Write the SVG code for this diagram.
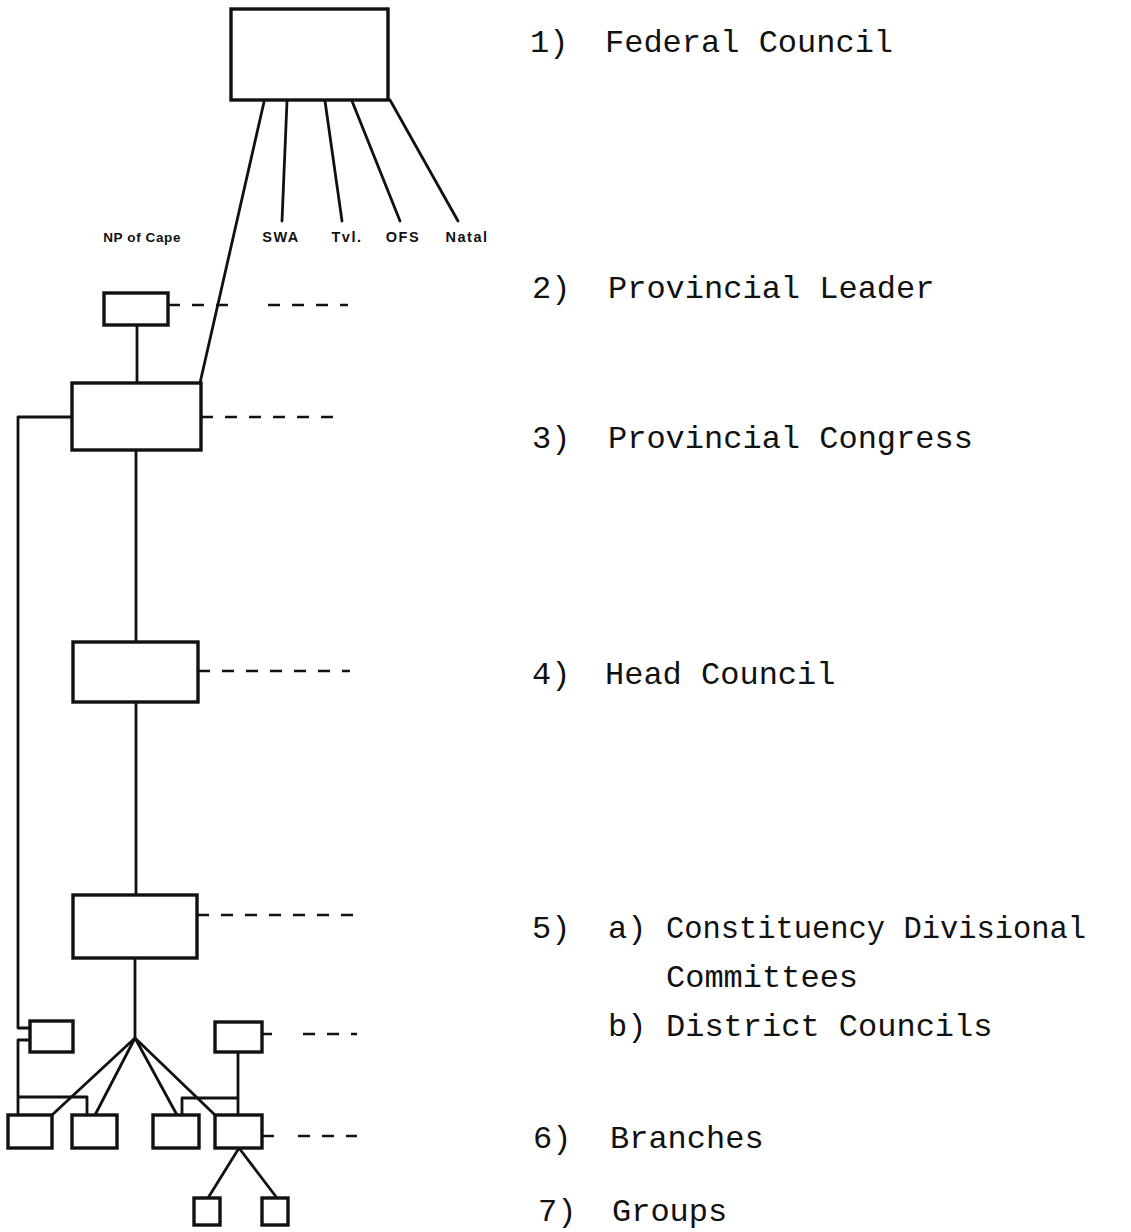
<svg xmlns="http://www.w3.org/2000/svg" width="1131" height="1232" viewBox="0 0 1131 1232">
<style>
.box{fill:#fff;stroke:#111;stroke-width:3.4}
.ln{fill:none;stroke:#111;stroke-width:2.8;stroke-linecap:round;stroke-linejoin:round}
.dash{fill:none;stroke:#111;stroke-width:2.5;stroke-dasharray:12 12}
.lab{font-family:"Liberation Sans",Arial,sans-serif;font-weight:bold;font-size:14.5px;fill:#111;text-anchor:middle;letter-spacing:1.5px}
.txt{font-family:"Liberation Mono","Courier New",monospace;font-size:32px;fill:#111}
</style>
<rect width="1131" height="1232" fill="#fff"/>
<g id="connectors">
<path class="ln" d="M264,102 L200,383"/>
<path class="ln" d="M287,101 L282,221"/>
<path class="ln" d="M325,101 L342,221"/>
<path class="ln" d="M352,101 L400,221"/>
<path class="ln" d="M390,100 L458,221"/>
<path class="ln" d="M137,325 L137,383"/>
<path class="ln" d="M136,450 L136,642"/>
<path class="ln" d="M136,702 L136,895"/>
<path class="ln" d="M135,958 L135,1038"/>
<path class="ln" d="M135,1038 L52,1115 M135,1038 L95,1115 M135,1038 L177,1115 M135,1038 L215,1115"/>
<path class="ln" d="M72,417 L18,417 L18,1028 L30,1028 M30,1040 L18,1040 L18,1115 M18,1097 L87,1097 L87,1115"/>
<path class="ln" d="M238,1052 L238,1115 M238,1098 L182,1098 L182,1115"/>
<path class="ln" d="M239,1148 L208,1198 M239,1148 L277,1198"/>
<path class="dash" d="M168,305 L232,305 M268,305 L348,305"/>
<path class="dash" d="M201,417 L345,417"/>
<path class="dash" d="M198,671 L350,671"/>
<path class="dash" d="M197,915 L355,915"/>
<path class="dash" d="M262,1034 L272,1034 M303,1034 L357,1034"/>
<path class="dash" d="M262,1136 L278,1136 M298,1136 L357,1136"/>
</g>
<g id="connector-labels">
<text class="lab" x="181" y="242" style="text-anchor:end;letter-spacing:0.6px;font-size:13.5px">NP of Cape</text>
<text class="lab" x="281" y="242">SWA</text>
<text class="lab" x="347" y="242">Tvl.</text>
<text class="lab" x="403" y="242">OFS</text>
<text class="lab" x="467" y="242">Natal</text>
</g>
<g id="federal-council"><rect class="box" x="231" y="9" width="157" height="91"/></g>
<g id="provincial-leader"><rect class="box" x="104" y="293" width="64" height="32"/></g>
<g id="provincial-congress"><rect class="box" x="72" y="383" width="129" height="67"/></g>
<g id="head-council"><rect class="box" x="73" y="642" width="125" height="60"/></g>
<g id="constituency-committee"><rect class="box" x="73" y="895" width="124" height="63"/></g>
<g id="district-council-left"><rect class="box" x="30" y="1021" width="43" height="31"/></g>
<g id="district-council-right"><rect class="box" x="215" y="1022" width="47" height="30"/></g>
<g id="branch-1"><rect class="box" x="8" y="1115" width="44" height="33"/></g>
<g id="branch-2"><rect class="box" x="72" y="1115" width="45" height="33"/></g>
<g id="branch-3"><rect class="box" x="153" y="1115" width="46" height="33"/></g>
<g id="branch-4"><rect class="box" x="215" y="1115" width="47" height="33"/></g>
<g id="group-1"><rect class="box" x="194" y="1198" width="26" height="27"/></g>
<g id="group-2"><rect class="box" x="262" y="1198" width="26" height="27"/></g>
<g id="legend">
<text class="txt" x="530" y="52">1)</text><text class="txt" x="605" y="52">Federal Council</text>
<text class="txt" x="532" y="298">2)</text><text class="txt" x="608" y="298">Provincial Leader</text>
<text class="txt" x="532" y="448">3)</text><text class="txt" x="608" y="448">Provincial Congress</text>
<text class="txt" x="532" y="684">4)</text><text class="txt" x="605" y="684">Head Council</text>
<text class="txt" x="532" y="938">5)</text><text class="txt" x="608" y="938">a)</text><text class="txt" x="666" y="938" textLength="420" lengthAdjust="spacingAndGlyphs">Constituency Divisional</text>
<text class="txt" x="666" y="987">Committees</text>
<text class="txt" x="608" y="1036">b)</text><text class="txt" x="666" y="1036">District Councils</text>
<text class="txt" x="533" y="1148">6)</text><text class="txt" x="610" y="1148">Branches</text>
<text class="txt" x="538" y="1221">7)</text><text class="txt" x="612" y="1221">Groups</text>
</g>
</svg>
